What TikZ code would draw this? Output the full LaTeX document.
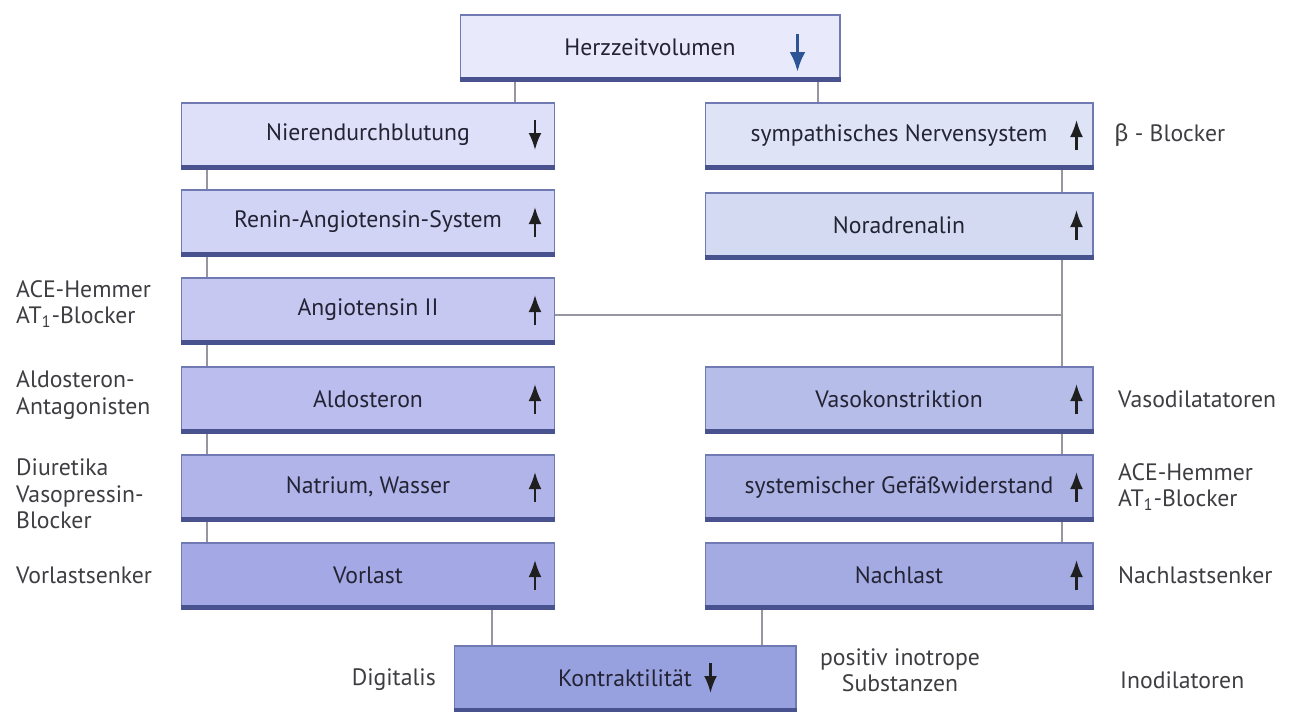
\documentclass[tikz,border=0pt]{standalone}
\usepackage{fontspec}
\setmainfont{PT Sans}
\newfontfamily\grfont{Fira Sans}
\usetikzlibrary{positioning,arrows.meta}

\definecolor{rahmen}{RGB}{112,122,178}
\definecolor{kante}{RGB}{72,82,142}
\definecolor{strichgrau}{RGB}{150,150,160}
\definecolor{schrift}{RGB}{35,35,52}
\definecolor{seitengrau}{RGB}{62,62,66}
\definecolor{hzvblau}{RGB}{45,85,150}
\definecolor{fhzv}{RGB}{232,234,252}
\definecolor{fniere}{RGB}{222,224,250}
\definecolor{frenin}{RGB}{210,212,246}
\definecolor{fangio}{RGB}{198,200,242}
\definecolor{faldo}{RGB}{186,189,237}
\definecolor{fnatrium}{RGB}{176,180,233}
\definecolor{fvorlast}{RGB}{164,169,229}
\definecolor{fsymp}{RGB}{222,228,246}
\definecolor{fnor}{RGB}{212,218,242}
\definecolor{fvaso}{RGB}{182,189,232}
\definecolor{fsyst}{RGB}{173,180,229}
\definecolor{fnach}{RGB}{163,171,226}
\definecolor{fkontr}{RGB}{152,161,223}

\tikzset{
  kasten/.style={draw=rahmen, line width=0.6pt, minimum height=1.28cm,
    text=schrift, font=\fontsize{13.5}{16}\selectfont},
  links/.style={kasten, minimum width=7.46cm},
  rechts/.style={kasten, minimum width=7.76cm},
  seite/.style={anchor=west, align=left, text=seitengrau,
    font=\fontsize{13.5}{15}\selectfont},
  verbindung/.style={draw=strichgrau, line width=0.6pt},
  unterkante/.style={draw=kante, line width=2.4pt},
  hoch/.style={-{Latex[length=0.34cm,width=0.26cm]}, line width=1.3pt, draw=black!88},
}

\begin{document}
\begin{tikzpicture}[x=0.02cm, y=-0.02cm]
\def\lx{368}
\def\rx{899}
\useasboundingbox (0,0) rectangle (1294,711);

\coordinate (lk) at (207,0);
\coordinate (rk) at (1062,0);
\coordinate (hl) at (515,0);
\coordinate (hr) at (818,0);
\coordinate (kl) at (492,0);
\coordinate (kr) at (762,0);

\node[kasten, fill=fhzv, minimum width=7.6cm] (hzv) at (650,47) {Herzzeitvolumen};

\node[links, fill=fniere] (niere) at (\lx,135) {Nierendurchblutung};
\node[links, fill=frenin] (renin) at (\lx,222) {Renin-Angiotensin-System};
\node[links, fill=fangio] (angio) at (\lx,310) {Angiotensin II};
\node[links, fill=faldo] (aldo) at (\lx,399) {Aldosteron};
\node[links, fill=fnatrium] (natrium) at (\lx,487) {Natrium, Wasser};
\node[links, fill=fvorlast] (vorlast) at (\lx,575) {Vorlast};

\node[rechts, fill=fsymp] (symp) at (\rx,135) {sympathisches Nervensystem};
\node[rechts, fill=fnor] (nor) at (\rx,225) {Noradrenalin};
\node[rechts, fill=fvaso] (vaso) at (\rx,399) {Vasokonstriktion};
\node[rechts, fill=fsyst] (syst) at (\rx,487) {systemischer Gefäßwiderstand};
\node[rechts, fill=fnach] (nach) at (\rx,575) {Nachlast};

\node[kasten, fill=fkontr, minimum width=6.84cm] (kontr) at (625,678) {Kontraktilität};

% Verbindungen
\draw[verbindung] (hzv.south -| hl) -- (niere.north -| hl);
\draw[verbindung] (hzv.south -| hr) -- (symp.north -| hr);
\draw[verbindung] (niere.south -| lk) -- (renin.north -| lk);
\draw[verbindung] (renin.south -| lk) -- (angio.north -| lk);
\draw[verbindung] (angio.south -| lk) -- (aldo.north -| lk);
\draw[verbindung] (aldo.south -| lk) -- (natrium.north -| lk);
\draw[verbindung] (natrium.south -| lk) -- (vorlast.north -| lk);
\draw[verbindung] (symp.south -| rk) -- (nor.north -| rk);
\draw[verbindung] (nor.south -| rk) -- (vaso.north -| rk);
\draw[verbindung] (vaso.south -| rk) -- (syst.north -| rk);
\draw[verbindung] (syst.south -| rk) -- (nach.north -| rk);
\draw[verbindung] ([yshift=-0.1cm]angio.east) -- ([yshift=-0.1cm]angio.east -| rk);
\draw[verbindung] (vorlast.south -| kl) -- (kontr.north -| kl);
\draw[verbindung] (nach.south -| kr) -- (kontr.north -| kr);

\foreach \n in {hzv,niere,renin,angio,aldo,natrium,vorlast,symp,nor,vaso,syst,nach,kontr}
  \draw[unterkante] (\n.south west) -- (\n.south east);

% Pfeile in den Kaesten
\foreach \n in {renin,angio,aldo,natrium,vorlast}
  \draw[hoch] ([shift={(-20,15)}]\n.east) -- ++(0,-30);
\foreach \n in {symp,nor,vaso,syst,nach}
  \draw[hoch] ([shift={(-17,15)}]\n.east) -- ++(0,-30);
\draw[hoch] ([shift={(-20,-15)}]niere.east) -- ++(0,30);
\draw[hoch] ([shift={(-86,-15)}]kontr.east) -- ++(0,30);
\draw[hoch, draw=hzvblau, line width=2pt, -{Latex[length=0.4cm,width=0.32cm]}]
  ([shift={(-43,-13)}]hzv.east) -- ++(0,38);

% Medikamente
\node[seite] (beta) at (1108,135) {{\grfont β} - Blocker};
\node[seite] (ace1) at (10,304) {ACE-Hemmer\\AT\textsubscript{1}-Blocker};
\node[seite] (aldoant) at (10,395) {Aldosteron-\\Antagonisten};
\node[seite] (diur) at (10,494) {Diuretika\\Vasopressin-\\Blocker};
\node[seite] (vlsenker) at (10,575) {Vorlastsenker};
\node[seite] (vasodil) at (1112,399) {Vasodilatatoren};
\node[seite] (ace2) at (1112,487) {ACE-Hemmer\\AT\textsubscript{1}-Blocker};
\node[seite] (nlsenker) at (1112,575) {Nachlastsenker};
\node[seite, anchor=east] (digi) at (442,680) {Digitalis};
\node[seite, align=center, anchor=center] (posino) at (900,670) {positiv inotrope\\Substanzen};
\node[seite] (inodil) at (1114,680) {Inodilatoren};
\end{tikzpicture}
\end{document}
